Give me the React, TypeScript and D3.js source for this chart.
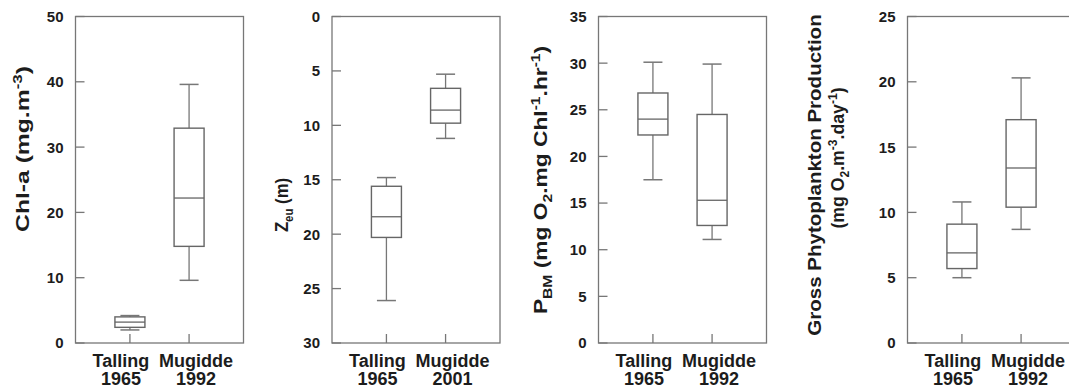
import React from "react";
import * as d3 from "d3";

// box stats: [lower whisker, Q1, median, Q3, upper whisker]
const chlTalling = [2.0, 2.4, 3.2, 4.0, 4.2];
const chlMugidde = [9.6, 14.8, 22.2, 32.9, 39.6];
const zeuTalling = [14.8, 15.6, 18.4, 20.3, 26.1];
const zeuMugidde = [5.3, 6.6, 8.6, 9.8, 11.2];
const pbmTalling = [17.5, 22.3, 24.0, 26.8, 30.1];
const pbmMugidde = [11.1, 12.6, 15.3, 24.5, 29.9];
const gppTalling = [5.0, 5.7, 6.9, 9.1, 10.8];
const gppMugidde = [8.7, 10.4, 13.4, 17.1, 20.3];

const sites = ["Talling", "Mugidde"];
const years1992 = ["1965", "1992"];
const years2001 = ["1965", "2001"];

const chlTicks = [0, 10, 20, 30, 40, 50];
const zeuTicks = [0, 5, 10, 15, 20, 25, 30];
const pbmTicks = [0, 5, 10, 15, 20, 25, 30, 35];
const gppTicks = [0, 5, 10, 15, 20, 25];

type Seg = { t: string; sub?: boolean; sup?: boolean };

const chlTitle: Seg[][] = [[{ t: "Chl-a (mg.m" }, { t: "-3", sup: true }, { t: ")" }]];
const zeuTitle: Seg[][] = [[{ t: "Z" }, { t: "eu", sub: true }, { t: " (m)" }]];
const pbmTitle: Seg[][] = [
  [
    { t: "P" },
    { t: "BM", sub: true },
    { t: " (mg O" },
    { t: "2", sub: true },
    { t: ".mg Chl" },
    { t: "-1", sup: true },
    { t: ".hr" },
    { t: "-1", sup: true },
    { t: ")" },
  ],
];
const gppTitle: Seg[][] = [
  [{ t: "Gross Phytoplankton Production" }],
  [
    { t: "(mg O" },
    { t: "2", sub: true },
    { t: ".m" },
    { t: "-3", sup: true },
    { t: ".day" },
    { t: "-1", sup: true },
    { t: ")" },
  ],
];

// layout
const TOP = 16.5;
const BOTTOM = 343;
const PW = 168;
const FONT = "'Liberation Sans', Arial, Helvetica, sans-serif";
const LINE = "#777";
const TEXT = "#1c1c1c";

const panels = [
  { left: 75.5, max: 50, ticks: chlTicks, rev: false, boxes: [chlTalling, chlMugidde], years: years1992, title: chlTitle, tx: [29], ty: [149], sx: [1.3] },
  { left: 332, max: 30, ticks: zeuTicks, rev: true, boxes: [zeuTalling, zeuMugidde], years: years2001, title: zeuTitle, tx: [288], ty: [205], sx: [0.88] },
  { left: 598.5, max: 35, ticks: pbmTicks, rev: false, boxes: [pbmTalling, pbmMugidde], years: years1992, title: pbmTitle, tx: [547], ty: [180], sx: [1.2] },
  { left: 907.5, max: 25, ticks: gppTicks, rev: false, boxes: [gppTalling, gppMugidde], years: years1992, title: gppTitle, tx: [821, 844], ty: [175, 158], sx: [1.08, 0.93] },
];

function Title({ segs, x, y, sx }: { segs: Seg[]; x: number; y: number; sx: number }) {
  let shift = 0;
  return (
    <text
      transform={`translate(${x},${y}) rotate(-90) scale(${sx},1)`}
      textAnchor="middle"
      dy="0.35em"
      fontSize={19}
      fontWeight="bold"
      fill={TEXT}
      fontFamily={FONT}
    >
      {segs.map((s, i) => {
        const target = s.sup ? -7 : s.sub ? 5 : 0;
        const dy = target - shift;
        shift = target;
        return (
          <tspan key={i} dy={dy} fontSize={s.sup || s.sub ? 13 : 19}>
            {s.t}
          </tspan>
        );
      })}
    </text>
  );
}

function Panel({ p }: { p: (typeof panels)[number] }) {
  const y = d3
    .scaleLinear()
    .domain(p.rev ? [p.max, 0] : [0, p.max])
    .range([BOTTOM, TOP]);
  const x = d3.scalePoint<string>().domain(sites).range([p.left, p.left + PW]).padding(0.92);
  const bw = 30;
  const cw = 19;
  const labelShift = [-9, 7];
  return (
    <g>
      <rect x={p.left} y={TOP} width={PW} height={BOTTOM - TOP} fill="none" stroke={LINE} strokeWidth={1.3} />
      {p.ticks.map((t) => (
        <g key={t}>
          <line x1={p.left} x2={p.left + 9} y1={y(t)} y2={y(t)} stroke={LINE} strokeWidth={1.3} />
          <text
            x={p.left - 12}
            y={y(t)}
            dy="0.36em"
            textAnchor="end"
            fontSize={15}
            fontWeight="bold"
            fill={TEXT}
            fontFamily={FONT}
          >
            {t}
          </text>
        </g>
      ))}
      {sites.map((s, i) => {
        const cx = x(s)!;
        const b = p.boxes[i];
        return (
          <g key={s}>
            <line x1={cx} x2={cx} y1={BOTTOM} y2={BOTTOM - 9} stroke={LINE} strokeWidth={1.3} />
            <line x1={cx} x2={cx} y1={y(b[0])} y2={y(b[1])} stroke={LINE} strokeWidth={1.3} />
            <line x1={cx} x2={cx} y1={y(b[3])} y2={y(b[4])} stroke={LINE} strokeWidth={1.3} />
            <line x1={cx - cw / 2} x2={cx + cw / 2} y1={y(b[0])} y2={y(b[0])} stroke={LINE} strokeWidth={1.5} />
            <line x1={cx - cw / 2} x2={cx + cw / 2} y1={y(b[4])} y2={y(b[4])} stroke={LINE} strokeWidth={1.5} />
            <rect
              x={cx - bw / 2}
              y={Math.min(y(b[1]), y(b[3]))}
              width={bw}
              height={Math.abs(y(b[1]) - y(b[3]))}
              fill="white"
              stroke="#666"
              strokeWidth={1.4}
            />
            <line x1={cx - bw / 2} x2={cx + bw / 2} y1={y(b[2])} y2={y(b[2])} stroke="#666" strokeWidth={1.3} />
            <text
              x={cx + labelShift[i]}
              y={BOTTOM + 24}
              textAnchor="middle"
              fontSize={18}
              fontWeight="bold"
              fill={TEXT}
              fontFamily={FONT}
            >
              {s}
            </text>
            <text
              x={cx + labelShift[i]}
              y={BOTTOM + 42}
              textAnchor="middle"
              fontSize={18}
              fontWeight="bold"
              fill={TEXT}
              fontFamily={FONT}
            >
              {p.years[i]}
            </text>
          </g>
        );
      })}
      {p.title.map((segs, i) => (
        <Title key={i} segs={segs} x={p.tx[i]} y={p.ty[i]} sx={p.sx[i]} />
      ))}
    </g>
  );
}

export default function App() {
  return (
    <svg
      width={1069}
      height={388}
      style={{ position: "absolute", left: 0, top: 0, background: "white" }}
    >
      {panels.map((p, i) => (
        <Panel key={i} p={p} />
      ))}
    </svg>
  );
}
